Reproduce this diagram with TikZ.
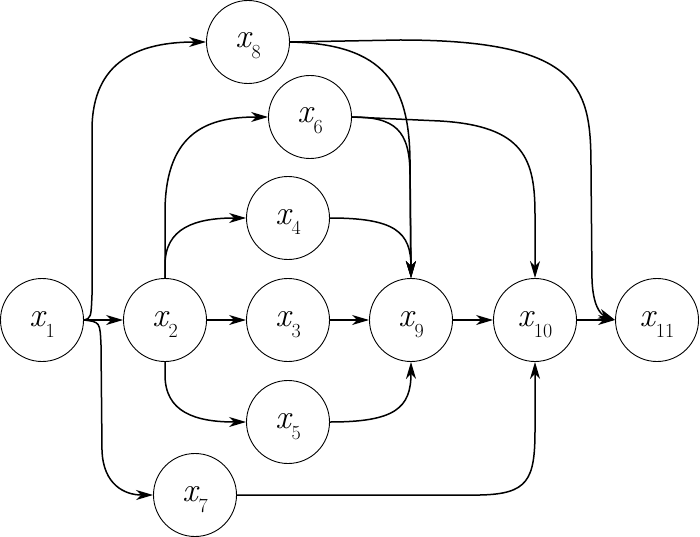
\documentclass[tikz,border=0pt]{standalone}
\usetikzlibrary{arrows.meta}
\newcommand{\xlab}[1]{\raisebox{-6pt}{{\fontsize{34}{34}\selectfont\itshape x}\kern1pt\raisebox{-11pt}{\fontsize{20}{20}\selectfont\upshape #1}}}
\begin{document}
\begin{tikzpicture}[x=1pt,y=-1pt,
  vnode/.style={circle,draw,line width=0.9pt,minimum size=83pt,inner sep=0pt,text height=10pt,text depth=10pt},
  arr/.style={line width=1.5pt,-{Stealth[length=17pt,width=10pt,inset=5pt]}},
  plain/.style={line width=1.5pt}]
\useasboundingbox (0,0) rectangle (700,537);
\node[vnode] (x1) at (42,320) {\xlab{1}};
\node[vnode] (x2) at (165,320) {\xlab{2}};
\node[vnode] (x3) at (288,320) {\xlab{3}};
\node[vnode] (x4) at (288,218) {\xlab{4}};
\node[vnode] (x5) at (288,422) {\xlab{5}};
\node[vnode] (x6) at (310,117) {\xlab{6}};
\node[vnode] (x7) at (195,495) {\xlab{7}};
\node[vnode] (x8) at (248,42) {\xlab{8}};
\node[vnode] (x9) at (411,320) {\xlab{9}};
\node[vnode] (x10) at (535,320) {\xlab{10}};
\node[vnode] (x11) at (657,320) {\xlab{11}};
% straight edges
\draw[arr] (x1) -- (x2);
\draw[arr] (x2) -- (x3);
\draw[arr] (x3) -- (x9);
\draw[arr] (x9) -- (x10);
\draw[arr] (x10) -- (x11);
% x1 -> x8, x1 -> x7
\draw[arr] (x1.east) .. controls (91,318) .. (92,295) -- (92,130) .. controls (92,60) and (140,42) .. (x8.west);
\draw[arr] (x1.east) .. controls (100,322) .. (101,345) -- (102,450) .. controls (103,485) and (125,495) .. (x7.west);
% x2 -> x6, x4, x5
\draw[arr] (x2.north) -- (165,210) .. controls (166,130) and (210,117) .. (x6.west);
\draw[arr] (x2.north) -- (165,265) .. controls (165,228) and (195,218) .. (x4.west);
\draw[arr] (x2.south) -- (165,375) .. controls (165,412) and (195,422) .. (x5.west);
% into x9
\draw[arr] (x4.east) .. controls (395,218) and (411,232) .. (x9.north);
\draw[arr] (x5.east) .. controls (395,422) and (411,408) .. (x9.south);
\draw[arr] (x8.east) .. controls (385,44) and (409,85) .. (410,160) -- (x9.north);
\draw[arr] (x6.east) .. controls (395,117) and (410,130) .. (410,175) -- (x9.north);
% into x10
\draw[arr] (x6.east) -- (440,121) .. controls (525,126) and (535,160) .. (535,215) -- (x10.north);
\draw[arr] (x7.east) -- (480,495) .. controls (528,494) and (535,480) .. (535,430) -- (x10.south);
% x8 -> x11
\draw[arr] (x8.east) -- (400,40) .. controls (585,40) and (591,90) .. (591,170) -- (592,280) .. controls (593,305) and (600,314) .. (x11.west);
\end{tikzpicture}
\end{document}
